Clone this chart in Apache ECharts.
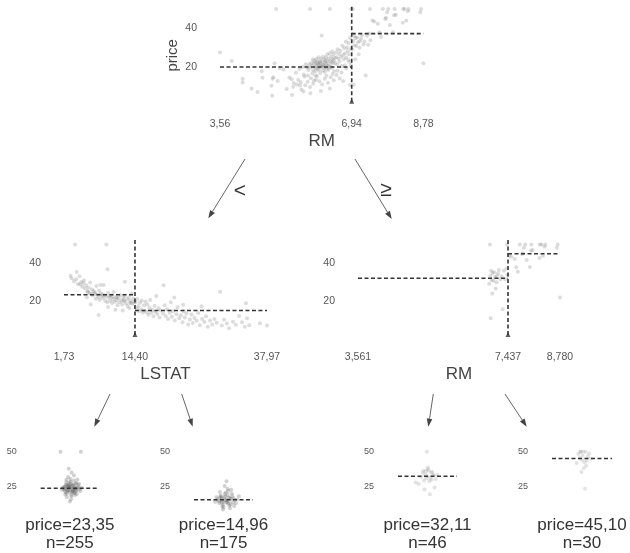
<!DOCTYPE html>
<html><head><meta charset="utf-8">
<script src="https://cdn.jsdelivr.net/npm/echarts@6/dist/echarts.min.js"></script>
<style>html,body{margin:0;padding:0;background:#fff}#c{width:630px;height:553px}</style>
</head><body><div id="c"></div>
<script>
// ---------- DATA ----------
const rootTicks = [3.56, 6.94, 8.78];
const rootTickLabels = ['3,56', '6,94', '8,78'];
const lstatTicks = [1.73, 14.40, 37.97];
const lstatTickLabels = ['1,73', '14,40', '37,97'];
const rmTicks = [3.561, 7.437, 8.780];
const rmTickLabels = ['3,561', '7,437', '8,780'];
const nodeYTicks = [20, 40];
const leafYTicks = [25, 50];

const rootSplit = 6.94;
const lstatSplit = 14.40;
const rmSplit = 7.437;
const rootMeans = [19.93, 37.24];
const lstatMeans = [23.35, 14.96];
const rmMeans = [32.11, 45.10];
const leafMeans = [23.35, 14.96, 32.11, 45.10];
const leafN = [255, 175, 46, 30];
const edgeLabels = ['<', '≥'];

// root node: [RM, price]
const rootPoints = [
[3.56,27.5],[3.86,23.1],[4.14,13.8],[4.14,11.9],[4.37,8.8],[4.52,7.0],[4.63,17.8],[4.65,14.4],[4.88,10.2],[4.90,5.0],
[4.91,13.8],[4.93,14.6],[4.96,21.9],[5.00,50.0],[5.04,12.7],[5.09,19.4],[5.19,18.7],[5.27,8.5],[5.34,14.5],[5.40,13.6],
[5.41,5.4],[5.45,11.7],[5.51,17.0],[5.57,13.2],[5.60,18.9],[5.61,10.4],[5.63,12.1],[5.68,19.9],[5.70,7.2],[5.71,16.1],
[5.73,15.0],[5.76,21.4],[5.79,19.6],[5.82,15.6],[5.83,18.4],[5.85,21.2],[5.87,50.0],[5.88,19.7],[5.89,14.1],[5.90,22.0],
[5.92,20.5],[5.93,16.6],[5.94,23.8],[5.95,18.2],[5.96,21.7],[5.97,12.8],[5.99,20.1],[6.00,22.2],[6.01,17.8],[6.02,19.3],
[6.03,24.1],[6.04,20.6],[6.05,15.2],[6.06,22.8],[6.07,19.0],[6.08,21.4],[6.09,25.0],[6.10,18.5],[6.11,20.9],[6.12,23.1],
[6.13,16.8],[6.14,21.7],[6.15,19.8],[6.16,24.4],[6.17,36.2],[6.18,20.3],[6.19,22.5],[6.20,18.1],[6.21,25.3],[6.22,21.0],
[6.23,19.4],[6.24,23.7],[6.25,17.4],[6.26,22.2],[6.27,20.0],[6.28,24.8],[6.29,21.5],[6.30,19.1],[6.31,26.4],[6.32,22.9],
[6.33,20.6],[6.34,18.4],[6.35,24.3],[6.36,21.2],[6.37,27.1],[6.38,50.0],[6.39,23.0],[6.40,20.1],[6.41,25.2],[6.42,22.4],
[6.43,19.5],[6.44,28.0],[6.45,24.0],[6.46,21.7],[6.47,26.6],[6.48,23.3],[6.49,17.9],[6.50,24.7],[6.52,22.0],[6.54,27.5],
[6.55,25.0],[6.57,21.2],[6.58,29.1],[6.60,24.2],[6.62,26.7],[6.63,22.8],[6.65,28.4],[6.67,25.3],[6.68,20.4],[6.70,31.0],
[6.72,26.2],[6.74,23.9],[6.75,29.6],[6.77,27.0],[6.79,33.1],[6.80,24.8],[6.82,30.1],[6.84,28.2],[6.86,32.4],[6.87,26.5],
[6.88,22.6],[6.90,35.0],[6.92,29.4],[6.93,50.0],[5.65,8.3],[5.75,10.5],[5.87,9.6],[5.95,11.3],[6.02,13.4],[6.11,12.5],
[6.18,10.9],[6.25,13.9],[6.33,11.8],[6.40,14.6],[6.48,13.1],[6.55,15.8],[6.63,14.0],[6.72,12.7],[5.53,10.9],[5.44,9.7],
[5.88,6.3],[6.15,7.5],[6.38,8.8],[6.01,15.6],[5.81,12.3],[6.29,15.4],[6.45,16.3],[6.58,18.0],[6.68,17.1],[6.80,19.2],
[6.92,21.0],[6.85,23.6],[6.76,20.8],[6.90,10.6],[5.98,23.3],[6.05,21.9],[6.13,22.4],[6.21,20.7],[6.27,23.2],[6.36,19.6],
[6.95,29.1],[6.97,50.0],[6.98,33.4],[6.99,10.8],[7.00,36.0],[7.01,31.2],[7.04,34.9],[7.06,30.8],[7.08,35.2],[7.10,32.7],
[7.12,26.6],[7.15,33.3],[7.18,34.6],[7.20,36.4],[7.24,31.6],[7.27,33.2],[7.30,15.6],[7.33,36.1],[7.36,31.5],[7.40,37.3],
[7.41,50.0],[7.42,33.8],[7.03,24.0],[7.14,29.9],[7.47,44.0],[7.52,43.5],[7.61,42.3],[7.65,37.9],[7.69,35.5],[7.74,50.0],
[7.80,44.8],[7.82,45.4],[7.85,48.3],[7.88,50.0],[7.92,41.7],[8.00,38.0],[8.03,46.7],[8.04,50.0],[8.07,47.0],[8.25,42.8],
[8.26,50.0],[8.30,50.0],[8.34,44.0],[8.38,48.8],[8.40,50.0],[8.70,48.3],[8.72,50.0],[8.78,21.9]
];

// left node (RM < 6.94): [LSTAT, price]
const lstatPoints = [
[3.7,50.0],[9.3,50.0],[9.5,36.8],[4.0,35.4],[12.6,30.2],[8.2,28.5],
[2.9,33.4],[3.1,32.1],[3.5,30.5],[3.9,31.6],[4.2,29.0],[4.5,33.2],[4.6,28.7],[4.8,30.1],[5.0,27.5],[5.2,29.6],
[5.3,31.0],[5.5,26.6],[5.7,28.4],[5.9,25.0],[6.1,27.1],[6.3,24.3],[6.4,29.8],[6.6,23.6],[6.7,26.2],[6.9,22.9],
[7.0,25.3],[7.2,24.7],[7.4,21.2],[7.5,27.9],[7.7,23.3],[7.9,22.0],[8.0,25.6],[8.1,20.6],[8.3,24.0],[8.5,22.6],
[8.7,21.4],[8.8,28.5],[9.0,23.1],[9.1,20.0],[9.3,22.2],[9.5,19.4],[9.6,24.4],[9.8,21.7],[10.0,20.3],[10.1,23.0],
[10.3,18.9],[10.5,21.0],[10.6,24.8],[10.8,19.6],[11.0,22.0],[11.1,20.5],[11.3,17.8],[11.5,21.4],[11.6,19.3],[11.8,23.1],
[12.0,20.1],[12.1,18.2],[12.3,21.7],[12.5,19.9],[12.6,22.7],[12.8,18.7],[13.0,20.8],[13.1,17.4],[13.3,21.9],[13.5,19.1],
[13.6,20.2],[13.8,23.9],[14.0,18.5],[14.1,21.2],[14.3,19.6],[7.9,12.6],[6.5,18.2],[10.9,15.3],[12.2,14.9],[13.4,16.1],
[9.6,16.8],[5.8,22.0],[7.3,23.8],[8.6,23.5],[9.9,22.6],[11.2,21.9],[12.4,20.4],[13.7,19.0],[6.0,24.9],[10.4,22.1],
[14.5,19.4],[14.7,16.0],[14.8,21.0],[15.0,17.2],[15.1,14.5],[15.3,19.1],[15.5,15.6],[15.6,20.3],[15.8,13.9],[16.0,17.8],
[16.1,15.0],[16.3,19.8],[16.5,14.1],[16.6,18.2],[16.8,12.7],[17.0,16.4],[17.1,20.6],[17.3,13.8],[17.5,15.2],[17.7,11.9],
[17.9,17.3],[18.0,14.3],[18.2,22.7],[18.4,13.1],[18.6,16.1],[18.8,11.3],[19.0,14.9],[19.5,28.4],[19.4,13.4],[19.7,17.8],
[19.9,12.0],[20.1,15.6],[20.3,10.4],[20.6,13.8],[20.8,19.4],[21.0,11.7],[21.2,14.5],[21.5,9.6],[21.8,13.0],[22.0,16.7],
[22.3,10.9],[22.6,12.4],[22.9,8.7],[23.1,14.6],[23.3,11.3],[23.6,13.4],[23.9,7.5],[24.2,10.2],[24.5,12.8],[24.7,8.3],
[25.0,11.0],[25.4,9.5],[25.7,13.7],[26.0,7.2],[26.4,10.4],[26.8,8.8],[27.1,11.9],[27.4,6.3],[27.8,9.7],[28.2,7.6],
[28.6,10.5],[29.0,8.4],[29.6,24.9],[29.9,7.0],[30.3,10.1],[30.8,8.1],[31.2,5.6],[31.9,9.0],[32.4,7.4],[33.0,12.0],
[33.5,8.7],[34.0,6.3],[34.2,18.8],[34.4,10.9],[34.8,7.2],[36.7,8.2],[37.97,7.0],[23.0,18.0],[26.3,17.2],[21.4,21.8]
];

// leaves: [jitter, price]
const leaf1 = [
[0.52,23.4],[0.47,22.1],[0.58,24.6],[0.44,25.3],[0.61,21.8],[0.50,20.6],[0.55,26.2],[0.42,23.0],[0.63,23.9],[0.49,27.4],
[0.57,19.8],[0.46,21.2],[0.53,25.0],[0.39,24.1],[0.66,22.5],[0.51,28.3],[0.45,19.3],[0.59,22.9],[0.54,21.0],[0.48,24.8],
[0.60,26.9],[0.43,20.4],[0.56,23.2],[0.40,22.6],[0.64,25.7],[0.52,18.7],[0.47,26.0],[0.58,20.2],[0.50,24.3],[0.62,19.1],
[0.44,27.8],[0.55,22.3],[0.41,21.6],[0.65,24.0],[0.49,23.7],[0.57,29.1],[0.53,17.6],[0.46,24.9],[0.60,23.0],[0.38,23.5],
[0.68,21.4],[0.51,30.2],[0.45,16.8],[0.56,25.5],[0.48,22.0],[0.61,27.2],[0.43,25.9],[0.54,20.9],[0.59,18.4],[0.47,31.5],
[0.52,15.4],[0.63,29.8],[0.42,18.9],[0.57,32.7],[0.50,13.8],[0.44,29.5],[0.66,26.5],[0.53,34.9],[0.48,37.6],[0.36,22.2],
[0.70,23.8],[0.34,50.0],[0.69,50.0],[0.55,21.5],[0.49,25.6],[0.58,23.6],[0.46,22.8],[0.52,26.7],[0.60,21.1],[0.41,24.5]
];
const leaf2 = [
[0.55,15.0],[0.50,13.6],[0.61,16.2],[0.46,14.4],[0.66,13.1],[0.53,17.3],[0.58,12.2],[0.44,16.7],[0.63,15.6],[0.49,11.5],
[0.57,18.4],[0.42,13.9],[0.69,14.8],[0.52,19.2],[0.60,10.8],[0.47,15.9],[0.65,17.7],[0.55,12.9],[0.40,15.3],[0.71,12.4],
[0.51,16.5],[0.59,14.1],[0.45,18.0],[0.62,11.7],[0.54,20.3],[0.48,10.2],[0.67,16.0],[0.56,13.3],[0.43,12.6],[0.64,19.6],
[0.50,9.5],[0.58,21.4],[0.46,17.1],[0.61,8.8],[0.53,14.6],[0.38,16.9],[0.73,15.2],[0.57,23.0],[0.49,7.9],[0.68,10.5],
[0.52,25.1],[0.44,20.7],[0.63,22.2],[0.36,13.5],[0.76,17.5],[0.55,28.4],[0.59,16.6],[0.47,13.0]
];
const leaf3 = [
[0.50,32.1],[0.46,33.4],[0.55,31.0],[0.42,34.6],[0.58,35.2],[0.52,36.4],[0.48,30.7],[0.61,33.2],[0.44,29.1],[0.56,34.9],
[0.50,37.3],[0.39,31.5],[0.64,30.1],[0.53,28.6],[0.47,35.8],[0.59,32.7],[0.35,26.4],[0.62,24.0],[0.45,22.5],[0.54,19.0],
[0.51,38.7],[0.30,27.5],[0.67,33.0],[0.49,50.0],[0.57,29.6],[0.43,36.1]
];
const leaf4 = [
[0.52,50.0],[0.48,50.0],[0.56,50.0],[0.44,48.3],[0.60,46.7],[0.50,44.0],[0.58,43.5],[0.46,45.4],[0.54,42.3],[0.62,48.8],
[0.41,41.7],[0.65,44.8],[0.53,37.9],[0.49,35.2],[0.57,39.8],[0.55,23.1],[0.51,47.0],[0.47,50.0]
];

// ---------- CHART ----------
const TICKFONT = "'Liberation Sans Narrow','Liberation Sans',Arial,sans-serif";
const SANS = "'Liberation Sans',Arial,sans-serif";
const TICK_COLOR = '#555';
const LINE_COLOR = '#333';
const DASH = [4, 2.5];

function labelFor(ticks, labels) {
  return function (v) {
    let best = 0, bd = Infinity;
    ticks.forEach((t, i) => { const d = Math.abs(t - v); if (d < bd) { bd = d; best = i; } });
    return labels[best];
  };
}

const grids = [
  {left: 220, top: 5.1, width: 203.4, height: 100.4},
  {left: 64, top: 240.7, width: 203, height: 98},
  {left: 358, top: 240.7, width: 202, height: 98},
  {left: 40.7, top: 449, width: 58.3, height: 71.3},
  {left: 194, top: 449, width: 59, height: 71.3},
  {left: 398, top: 449, width: 59, height: 71.3},
  {left: 552, top: 449, width: 60, height: 71.3}
].map(g => Object.assign({outerBoundsMode: 'none', containLabel: false}, g));

function xAx(i, min, max, ticks, labels, name) {
  return {
    type: 'value', gridIndex: i, min: min, max: max, show: true,
    axisLine: {show: false}, axisTick: {show: false}, splitLine: {show: false},
    axisLabel: ticks ? {customValues: ticks, formatter: labelFor(ticks, labels), color: TICK_COLOR,
      fontFamily: TICKFONT, fontSize: 10.5, margin: 13} : {show: false},
    name: name || '', nameLocation: 'middle', nameGap: 27,
    nameTextStyle: {fontFamily: SANS, fontSize: 17, color: '#444'}
  };
}
function yAx(i, ticks, leaf, name) {
  return {
    type: 'value', gridIndex: i, min: 0, max: 52,
    axisLine: {show: false}, axisTick: {show: false}, splitLine: {show: false},
    axisLabel: {customValues: ticks, formatter: v => String(v), color: TICK_COLOR,
      fontFamily: TICKFONT, fontSize: leaf ? 9 : 10.5, margin: leaf ? 24 : 23},
    name: name || '', nameLocation: 'middle', nameGap: 40,
    nameTextStyle: {fontFamily: SANS, fontSize: 15, color: '#444'}
  };
}

const xAxes = [
  xAx(0, rootTicks[0], rootTicks[2], rootTicks, rootTickLabels, 'RM'),
  xAx(1, lstatTicks[0], lstatTicks[2], lstatTicks, lstatTickLabels, 'LSTAT'),
  xAx(2, rmTicks[0], rmTicks[2], rmTicks, rmTickLabels, 'RM'),
  xAx(3, 0, 1), xAx(4, 0, 1), xAx(5, 0, 1), xAx(6, 0, 1)
];
const yAxes = [
  yAx(0, nodeYTicks, false, 'price'), yAx(1, nodeYTicks, false), yAx(2, nodeYTicks, false),
  yAx(3, leafYTicks, true), yAx(4, leafYTicks, true), yAx(5, leafYTicks, true), yAx(6, leafYTicks, true)
];

const series = [];
function scatter(i, data, color, size) {
  series.push({type: 'scatter', xAxisIndex: i, yAxisIndex: i, data: data, symbolSize: size || 4,
    itemStyle: {color: color}, silent: true, z: 2});
}
function dashed(i, data) {
  series.push({type: 'line', xAxisIndex: i, yAxisIndex: i, data: data, symbol: 'none',
    lineStyle: {color: LINE_COLOR, width: 1.6, type: DASH}, silent: true, z: 3});
}
function split(i, s, xmin, xmax, means) {
  dashed(i, [[xmin, means[0]], [s, means[0]]]);
  dashed(i, [[s, means[1]], [xmax, means[1]]]);
  dashed(i, [[s, 2], [s, 52.5]]);
  series.push({type: 'scatter', xAxisIndex: i, yAxisIndex: i, data: [[s, 2.2]], symbol: 'triangle',
    symbolSize: [5, 5], itemStyle: {color: LINE_COLOR}, silent: true, z: 4});
}

const PT = 'rgba(110,110,110,0.30)';
scatter(0, rootPoints, PT);
split(0, rootSplit, rootTicks[0], rootTicks[2], rootMeans);
scatter(1, lstatPoints, PT);
split(1, lstatSplit, lstatTicks[0], lstatTicks[2], lstatMeans);
scatter(2, rootPoints.filter(p => p[0] >= rootSplit), PT);
split(2, rmSplit, rmTicks[0], rmTicks[2], rmMeans);

const leaves = [leaf1, leaf2, leaf3, leaf4];
const leafColors = ['rgba(90,90,90,0.35)', 'rgba(90,90,90,0.35)', 'rgba(130,130,130,0.28)', 'rgba(130,130,130,0.28)'];
leaves.forEach((d, k) => {
  scatter(3 + k, d, leafColors[k], 4);
  dashed(3 + k, [[0, leafMeans[k]], [1, leafMeans[k]]]);
});

// ---------- decorations ----------
const graphic = [];
const arrows = [
  [245, 159, 208.3, 218.3], [355, 159, 391.7, 219],
  [110, 394, 94.3, 426.7], [181.7, 394, 192.7, 426.7],
  [433.3, 394, 428.3, 426.7], [505, 394, 526.7, 426.7]
];
arrows.forEach(a => {
  const [x1, y1, x2, y2] = a;
  const dx = x2 - x1, dy = y2 - y1, L = Math.hypot(dx, dy);
  const ux = dx / L, uy = dy / L, hl = 8, hw = 2.8;
  const bx = x2 - ux * hl, by = y2 - uy * hl;
  graphic.push({type: 'line', shape: {x1: x1, y1: y1, x2: bx, y2: by}, style: {stroke: '#666', lineWidth: 1}, silent: true});
  graphic.push({type: 'polygon', shape: {points: [[x2, y2], [bx - uy * hw, by + ux * hw], [bx + uy * hw, by - ux * hw]]},
    style: {fill: '#444'}, silent: true});
});
graphic.push({type: 'text', x: 240, y: 191.5, style: {text: edgeLabels[0], fontFamily: SANS, fontSize: 21,
  fill: '#333', align: 'center', verticalAlign: 'middle'}});
graphic.push({type: 'text', x: 386, y: 190.5, style: {text: edgeLabels[1], fontFamily: SANS, fontSize: 21,
  fill: '#333', align: 'center', verticalAlign: 'middle'}});

leafMeans.forEach((m, k) => {
  const g = grids[3 + k];
  const cx = g.left + g.width / 2;
  graphic.push({type: 'text', x: cx, y: 525, style: {text: 'price=' + m.toFixed(2).replace('.', ','),
    fontFamily: SANS, fontSize: 17, fill: '#333', align: 'center', verticalAlign: 'middle'}});
  graphic.push({type: 'text', x: cx, y: 543.5, style: {text: 'n=' + leafN[k],
    fontFamily: SANS, fontSize: 17, fill: '#333', align: 'center', verticalAlign: 'middle'}});
});

const chart = echarts.init(document.getElementById('c'), null, {renderer: 'canvas'});
chart.setOption({
  animation: false,
  backgroundColor: '#fff',
  grid: grids,
  xAxis: xAxes,
  yAxis: yAxes,
  series: series,
  graphic: graphic
});
</script>
</body></html>
